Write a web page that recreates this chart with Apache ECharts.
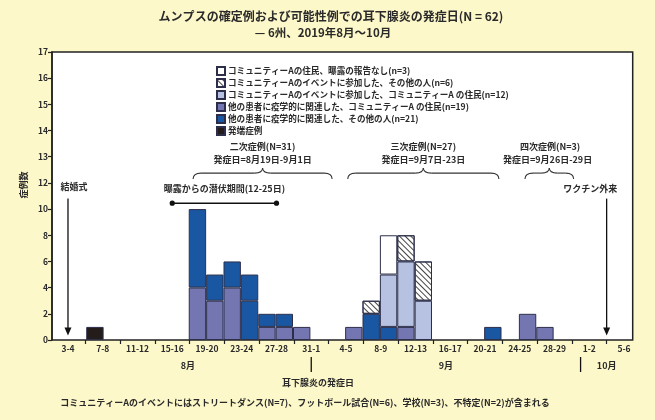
<!DOCTYPE html>
<html>
<head>
<meta charset="utf-8">
<script src="https://cdn.jsdelivr.net/npm/echarts@6/dist/echarts.min.js"></script>
<style>
html,body{margin:0;padding:0;background:#fdf8c9;}
#c{width:655px;height:420px;}
</style>
</head>
<body>
<div id="c"></div>
<script>
// ---- data ----
const categories = ['3-4','5-6','7-8','9-10','11-12','13-14','15-16','17-18','19-20','21-22','23-24','25-26','27-28','29-30','31-1',
  '2-3','4-5','6-7','8-9','10-11','12-13','14-15','16-17','18-19','20-21','22-23','24-25','26-27','28-29','30','1-2','3-4','5-6'];
const yTickLabels = ['0','2','4','6','8','10','12','13','14','15','16','17'];
const seriesNames = [
  'コミュニティーAの住民、曝露の報告なし(n=3)',
  'コミュニティーAのイベントに参加した、その他の人(n=6)',
  'コミュニティーAのイベントに参加した、コミュニティーA の住民(n=12)',
  '他の患者に疫学的に関連した、コミュニティーA の住民(n=19)',
  '他の患者に疫学的に関連した、その他の人(n=21)',
  '発端症例'
];
const epiLinkedResidents = [0,0,0,0,0,0,0,0,4,3,4,0,1,1,1,0,0,1,0,0,1,0,0,0,0,0,0,2,1,0,0,0,0];
const epiLinkedOthers    = [0,0,0,0,0,0,0,0,6,2,2,3,1,1,0,0,0,0,2,1,0,0,0,0,0,1,0,0,0,0,0,0,0];
const epiLinkedOthers2   = [0,0,0,0,0,0,0,0,0,0,0,2,0,0,0,0,0,0,0,0,0,0,0,0,0,0,0,0,0,0,0,0,0];
const eventResidents     = [0,0,0,0,0,0,0,0,0,0,0,0,0,0,0,0,0,0,0,4,5,3,0,0,0,0,0,0,0,0,0,0,0];
const eventOthers        = [0,0,0,0,0,0,0,0,0,0,0,0,0,0,0,0,0,0,1,0,2,3,0,0,0,0,0,0,0,0,0,0,0];
const residentsNoExposure= [0,0,0,0,0,0,0,0,0,0,0,0,0,0,0,0,0,0,0,3,0,0,0,0,0,0,0,0,0,0,0,0,0];
const indexCase          = [0,1,0,0,0,0,0,0,0,0,0,0,0,0,0,0,0,0,0,0,0,0,0,0,0,0,0,0,0,0,0,0,0];

// ---- chart ----
const FONT = '"Noto Sans CJK JP"';
const TXT = '#2a2a2a';
const chart = echarts.init(document.getElementById('c'), null, {renderer:'canvas'});
const nz = a => a.map(v => v === 0 ? '-' : v);
const border = {borderColor:'#2d2f4a', borderWidth:1};

function bar(name, data, color, extra) {
  return Object.assign({
    name, type:'bar', stack:'cases', data:nz(data), barWidth:'100%', barCategoryGap:'0%',
    xAxisIndex:0, yAxisIndex:0,
    itemStyle:Object.assign({color}, border),
    emphasis:{disabled:true}
  }, extra || {});
}

const hatchDecal = {symbol:'rect', symbolSize:1, dashArrayX:[1,0], dashArrayY:[0.9,2.1], rotation:Math.PI/4, color:'#444'};

const option = {
  backgroundColor:'#fdf8c9',
  animation:false,
  grid:[
    {left:59.3, right:22.3, top:52, bottom:80, show:false},
    {left:52, right:22.3, top:52, bottom:80, show:true, backgroundColor:'#ffffff', borderColor:'#222', borderWidth:1.5, z:0}
  ],
  xAxis:[
    {type:'category', gridIndex:0, data:categories, boundaryGap:true,
     axisLine:{show:false},
     axisTick:{show:true, alignWithLabel:true, interval:(i)=> i % 2 === 1, length:4, lineStyle:{color:'#222', width:1.2}},
     axisLabel:{interval:(i)=> i % 2 === 0, fontSize:8.5, fontWeight:'bold', color:TXT, fontFamily:FONT, margin:5}},
    {type:'value', gridIndex:1, show:false, min:0, max:1}
  ],
  yAxis:[
    {type:'value', gridIndex:0, min:0, max:22, interval:2, offset:7.3,
     axisLine:{show:true, lineStyle:{color:'#222', width:1.5}},
     axisTick:{show:true, length:4, lineStyle:{color:'#222', width:1.2}},
     splitLine:{show:false},
     axisLabel:{formatter:(v)=> yTickLabels[Math.round(v/2)], fontSize:8.5, fontWeight:'bold', color:TXT, fontFamily:FONT, margin:4}},
    {type:'value', gridIndex:1, show:false, min:0, max:1}
  ],
  legend:{
    data:seriesNames, orient:'vertical', left:216, top:66, padding:0, itemWidth:8, itemHeight:8, itemGap:2,
    icon:'rect', selectedMode:false,
    textStyle:{fontSize:8.6, fontWeight:'bold', color:TXT, fontFamily:FONT, padding:[0,0,0,-2]}
  },
  series:[
    bar(seriesNames[3], epiLinkedResidents, '#7376b0'),
    bar(seriesNames[4], epiLinkedOthers, '#1a57a2'),
    bar('dark-blue-upper', epiLinkedOthers2, '#1a57a2'),
    bar(seriesNames[2], eventResidents, '#b7c2e3'),
    bar(seriesNames[1], eventOthers, '#ffffff', {itemStyle:Object.assign({color:'#ffffff', decal:hatchDecal}, border)}),
    bar(seriesNames[0], residentsNoExposure, '#ffffff'),
    bar(seriesNames[5], indexCase, '#231c1a', {stack:'index'})
  ]
};
chart.setOption(option);

// ---- annotations anchored to axis coordinates ----
// category axis only converts whole indices, so interpolate fractional positions
const c0 = chart.convertToPixel({gridIndex:0}, [0, 0]);
const c1 = chart.convertToPixel({gridIndex:0}, [1, 0]);
const yTop = chart.convertToPixel({gridIndex:0}, [0, 22]);
function P(i, v){
  return [c0[0] + i * (c1[0] - c0[0]), c0[1] + v / 22 * (yTop[1] - c0[1])];
}
function txt(s, x, y, size, opts){
  return Object.assign({type:'text', silent:true, z:20, style:{text:s, x, y, textAlign:'center', textVerticalAlign:'middle',
    font:'bold '+(size||9)+'px '+FONT, fill:TXT}}, opts||{});
}
function line(x1,y1,x2,y2,w){ return {type:'line', silent:true, z:20, shape:{x1,y1,x2,y2}, style:{stroke:'#111', lineWidth:w||1.3}}; }
function curve(x1,y1,cx,cy,x2,y2){ return {type:'bezierCurve', silent:true, z:20, shape:{x1,y1,x2,y2,cpx1:cx,cpy1:cy}, style:{stroke:'#333', lineWidth:1.1, fill:null}}; }
function arrowDown(i, vTop, vTip){
  const a = P(i, vTop), b = P(i, vTip);
  return [line(a[0],a[1],b[0],b[1]-6,1.3),
    {type:'polygon', silent:true, z:20, shape:{points:[[b[0]-3.5,b[1]-8],[b[0]+3.5,b[1]-8],[b[0],b[1]]]}, style:{fill:'#111'}}];
}
function brace(i0, i1, v){
  const a = P(i0, v), b = P(i1, v);
  const x0=a[0], x1=b[0], ym=a[1], xm=(x0+x1)/2, yb=ym+6, yt=ym-5, r=8;
  const st = {stroke:'#333', lineWidth:1.1};
  return [
    curve(x0,yb, x0,ym, x0+r,ym),
    {type:'line', silent:true, z:20, shape:{x1:x0+r,y1:ym,x2:xm-r,y2:ym}, style:st},
    curve(xm-r,ym, xm,ym, xm,yt),
    curve(xm,yt, xm,ym, xm+r,ym),
    {type:'line', silent:true, z:20, shape:{x1:xm+r,y1:ym,x2:x1-r,y2:ym}, style:st},
    curve(x1-r,ym, x1,ym, x1,yb)
  ];
}

const g = [];
// title
g.push(txt('ムンプスの確定例および可能性例での耳下腺炎の発症日(N = 62)', 331, 16, 12));
g.push(txt('— 6州、2019年8月〜10月', 323, 33, 11.5));
// y axis title
g.push({type:'text', silent:true, z:20, x:24, y:185, rotation:Math.PI/2,
  style:{text:'症例数', x:0, y:0, textAlign:'center', textVerticalAlign:'middle', font:'bold 9px '+FONT, fill:TXT}});
// wedding
let p = P(0.35, 11.75); g.push(txt('結婚式', p[0], p[1], 9));
g.push(...arrowDown(0, 10.8, 0.35));
// incubation
p = P(9.0, 11.55); g.push(txt('曝露からの潜伏期間(12-25日)', p[0], p[1], 9));
let a = P(6, 10.45), b = P(12, 10.45);
g.push(line(a[0],a[1],b[0],b[1],1.6));
g.push({type:'circle', silent:true, z:20, shape:{cx:a[0], cy:a[1], r:2.6}, style:{fill:'#111'}});
g.push({type:'circle', silent:true, z:20, shape:{cx:b[0], cy:b[1], r:2.6}, style:{fill:'#111'}});
// braces + labels
const BR = 12.75, T1 = 14.75, T2 = 13.8;
g.push(...brace(7.2, 15.2, BR));
p = P(11.2, T1); g.push(txt('二次症例(N=31)', p[0], p[1], 9));
p = P(11.2, T2); g.push(txt('発症日=8月19日-9月1日', p[0], p[1], 9));
g.push(...brace(16.1, 24.8, BR));
p = P(20.45, T1); g.push(txt('三次症例(N=27)', p[0], p[1], 9));
p = P(20.45, T2); g.push(txt('発症日=9月7日-23日', p[0], p[1], 9));
g.push(...brace(26.3, 29.1, BR));
p = P(27.75, T1); g.push(txt('四次症例(N=3)', p[0], p[1], 9));
p = P(27.6, T2); g.push(txt('発症日=9月26日-29日', p[0], p[1], 9));
// vaccine clinic
p = P(30.05, 11.55); g.push(txt('ワクチン外来', p[0], p[1], 9));
g.push(...arrowDown(31, 10.8, 0.35));
// months below axis
p = P(6.9, 0); g.push(txt('8月', p[0], 366, 9));
p = P(21.75, 0); g.push(txt('9月', p[0], 366, 9));
p = P(31, 0); g.push(txt('10月', p[0], 366, 9));
p = P(14, 0); g.push(line(p[0], 357, p[0], 372, 1.3));
p = P(29.5, 0); g.push(line(p[0], 357, p[0], 372, 1.3));
g.push(txt('耳下腺炎の発症日', 318, 383, 9));
g.push(txt('コミュニティーAのイベントにはストリートダンス(N=7)、フットボール試合(N=6)、学校(N=3)、不特定(N=2)が含まれる', 305, 403, 9));

chart.setOption({graphic:g});
</script>
</body>
</html>
